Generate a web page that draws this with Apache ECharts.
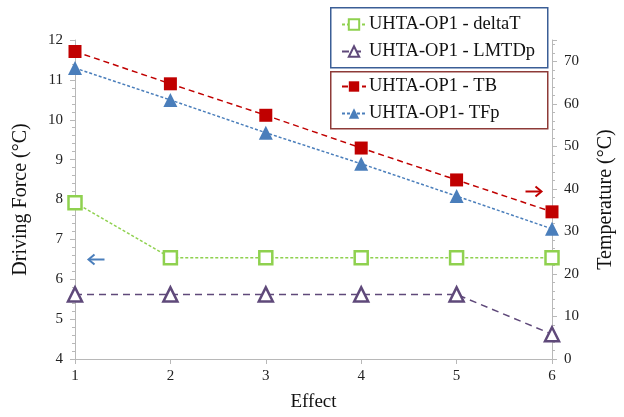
<!DOCTYPE html>
<html>
<head>
<meta charset="utf-8">
<script src="https://cdn.jsdelivr.net/npm/echarts@6/dist/echarts.min.js"></script>
<style>
  html, body { margin: 0; padding: 0; background: #fff; }
  #chart { width: 624px; height: 417px; }
</style>
</head>
<body>
<div id="chart"></div>
<script>
// Effects 1–6 on the category axis
const effects = ['1', '2', '3', '4', '5', '6'];

// Driving force (left axis, °C)
const deltaT = [7.92, 6.54, 6.54, 6.54, 6.54, 6.54];
const lmtdP  = [5.62, 5.62, 5.62, 5.62, 5.62, 4.62];

// Temperatures (right axis, °C)
const tB  = [72.3, 64.7, 57.3, 49.6, 42.1, 34.6];
const tFp = [68.4, 60.9, 53.2, 45.9, 38.3, 30.6];

const FONT = '"Liberation Serif", "Times New Roman", serif';
const AXIS_GRAY = '#b8b8b8';

const chart = echarts.init(document.getElementById('chart'), null, { renderer: 'canvas' });

const legendText = { fontFamily: FONT, fontSize: 18.5, color: '#111', padding: [0, 0, 0, -2] };

chart.setOption({
  backgroundColor: '#fff',
  animation: false,
  grid: { left: 75, right: 71, top: 40, bottom: 52 },
  legend: [
    {
      data: ['UHTA-OP1 - deltaT', 'UHTA-OP1 - LMTDp'],
      orient: 'vertical',
      left: 341, top: 15,
      padding: 0,
      itemGap: 8,
      itemWidth: 24, itemHeight: 13,
      textStyle: legendText
    },
    {
      data: ['UHTA-OP1 - TB', 'UHTA-OP1- TFp'],
      orient: 'vertical',
      left: 341, top: 77,
      padding: 0,
      itemGap: 8,
      itemWidth: 24, itemHeight: 13,
      textStyle: legendText
    }
  ],
  xAxis: {
    type: 'category',
    data: effects,
    boundaryGap: false,
    name: 'Effect',
    nameLocation: 'middle',
    nameGap: 34,
    nameTextStyle: { fontFamily: FONT, fontSize: 19, color: '#111' },
    axisLine: { lineStyle: { color: AXIS_GRAY, width: 1 } },
    axisTick: { show: true, length: 5, lineStyle: { color: AXIS_GRAY } },
    axisLabel: { fontFamily: FONT, fontSize: 15, color: '#222', margin: 10 },
    splitLine: { show: false }
  },
  yAxis: [
    {
      type: 'value',
      min: 4, max: 12, interval: 1,
      name: 'Driving Force (°C)',
      nameLocation: 'middle',
      nameGap: 44,
      nameTextStyle: { fontFamily: FONT, fontSize: 20, color: '#111' },
      axisLine: { show: true, lineStyle: { color: AXIS_GRAY, width: 1 } },
      axisTick: { show: true, length: 5, lineStyle: { color: AXIS_GRAY } },
      minorTick: { show: true, splitNumber: 5, length: 3, lineStyle: { color: AXIS_GRAY } },
      axisLabel: { fontFamily: FONT, fontSize: 15, color: '#222', margin: 12 },
      splitLine: { show: false }
    },
    {
      type: 'value',
      min: 0, max: 75, interval: 10,
      name: 'Temperature (°C)',
      nameLocation: 'middle',
      nameGap: 44,
      nameTextStyle: { fontFamily: FONT, fontSize: 20, color: '#111' },
      axisLine: { show: true, lineStyle: { color: AXIS_GRAY, width: 1 } },
      axisTick: { show: true, length: 5, lineStyle: { color: AXIS_GRAY } },
      minorTick: { show: true, splitNumber: 5, length: 3, lineStyle: { color: AXIS_GRAY } },
      axisLabel: {
        fontFamily: FONT, fontSize: 15, color: '#222', margin: 12,
        formatter: v => (v % 10 === 0 ? String(v) : '')
      },
      splitLine: { show: false }
    }
  ],
  series: [
    {
      name: 'UHTA-OP1 - deltaT',
      type: 'line',
      yAxisIndex: 0,
      data: deltaT,
      symbol: 'rect',
      symbolSize: 13,
      itemStyle: { color: '#fff', borderColor: '#8fd14f', borderWidth: 2.5 },
      lineStyle: { color: '#8fd14f', width: 1.5, type: [3, 2] },
      z: 3
    },
    {
      name: 'UHTA-OP1 - LMTDp',
      type: 'line',
      yAxisIndex: 0,
      data: lmtdP,
      symbol: 'triangle',
      symbolSize: 14,
      itemStyle: { color: '#fff', borderColor: '#5f497a', borderWidth: 2.5 },
      lineStyle: { color: '#5f497a', width: 1.5, type: [7, 5] },
      z: 3
    },
    {
      name: 'UHTA-OP1 - TB',
      type: 'line',
      yAxisIndex: 1,
      data: tB,
      symbol: 'rect',
      symbolSize: 13,
      itemStyle: { color: '#c00000', borderColor: '#c00000', borderWidth: 0 },
      lineStyle: { color: '#c00000', width: 1.5, type: [6, 4] },
      z: 4
    },
    {
      name: 'UHTA-OP1- TFp',
      type: 'line',
      yAxisIndex: 1,
      data: tFp,
      symbol: 'triangle',
      symbolSize: 14,
      itemStyle: { color: '#4a7ebb', borderColor: '#4a7ebb', borderWidth: 0 },
      lineStyle: { color: '#4a7ebb', width: 1.5, type: [3, 2] },
      z: 4
    }
  ],
  graphic: [
    // legend frames
    {
      type: 'rect', left: 330, top: 7,
      shape: { width: 217, height: 60 },
      style: { fill: '#fff', stroke: '#3b5e96', lineWidth: 1.5 },
      z: -1
    },
    {
      type: 'rect', left: 330, top: 71,
      shape: { width: 217, height: 57 },
      style: { fill: '#fff', stroke: '#8e3b38', lineWidth: 1.5 },
      z: -1
    },
    // axis-direction arrows
    {
      type: 'group', left: 86, top: 252,
      children: [
        { type: 'line', shape: { x1: 2, y1: 5, x2: 17, y2: 5 }, style: { stroke: '#4a7ebb', lineWidth: 2 } },
        { type: 'polyline', shape: { points: [[7, 0], [1, 5], [7, 10]] }, style: { stroke: '#4a7ebb', lineWidth: 2, fill: null } }
      ]
    },
    {
      type: 'group', left: 523, top: 184,
      children: [
        { type: 'line', shape: { x1: 0, y1: 5, x2: 15, y2: 5 }, style: { stroke: '#c00000', lineWidth: 2 } },
        { type: 'polyline', shape: { points: [[10, 0], [16, 5], [10, 10]] }, style: { stroke: '#c00000', lineWidth: 2, fill: null } }
      ]
    }
  ]
});
</script>
</body>
</html>
